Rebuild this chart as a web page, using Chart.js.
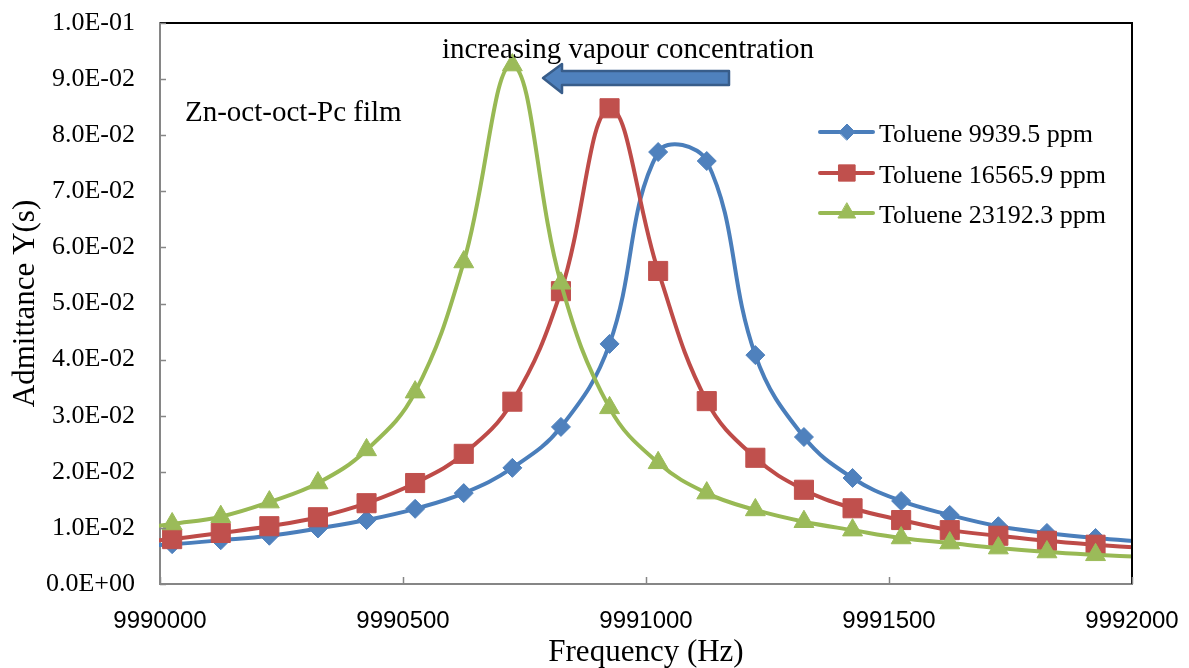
<!DOCTYPE html>
<html>
<head>
<meta charset="utf-8">
<script src="https://cdn.jsdelivr.net/npm/chart.js@4.4.1/dist/chart.umd.min.js"></script>
<style>
  html, body { margin: 0; padding: 0; background: #ffffff; }
  #wrap { width: 1189px; height: 668px; }
</style>
</head>
<body>
<div id="wrap"><canvas id="myChart" width="1189" height="668"></canvas></div>
<script>
// Datos (frecuencia en Hz, admitancia en S).
// El primer y ultimo punto estan fuera del eje: solo sirven para que la linea llegue al borde.
const frecuencias = [9989925, 9990025, 9990125, 9990225, 9990325, 9990425, 9990525, 9990625, 9990725,
  9990825, 9990925, 9991025, 9991125, 9991225, 9991325, 9991425, 9991525, 9991625,
  9991725, 9991825, 9991925, 9992025];

const tolueno1 = [0.0066, 0.0071, 0.0078, 0.0086, 0.0099, 0.0114, 0.0134, 0.0162, 0.0207, 0.0280,
  0.0428, 0.0770, 0.0754, 0.0408, 0.0262, 0.0189, 0.0148, 0.0123, 0.0103, 0.0091, 0.0082, 0.0075];
const tolueno2 = [0.0073, 0.0080, 0.0091, 0.0103, 0.0119, 0.0144, 0.0180, 0.0232, 0.0325, 0.0522,
  0.0848, 0.0558, 0.0326, 0.0225, 0.0168, 0.0135, 0.0114, 0.0096, 0.0086, 0.0077, 0.0070, 0.0064];
const tolueno3 = [0.0095, 0.0107, 0.0120, 0.0146, 0.0180, 0.0239, 0.0342, 0.0574, 0.0925, 0.0536,
  0.0314, 0.0216, 0.0162, 0.0132, 0.0111, 0.0096, 0.0082, 0.0073, 0.0064, 0.0057, 0.0052, 0.0048];

const nombres = ["Toluene 9939.5 ppm", "Toluene 16565.9 ppm", "Toluene 23192.3 ppm"];

const xMin = 9990000, xMax = 9992000, xPaso = 500;
const yMin = 0, yMax = 0.1, yPaso = 0.01;

const serif = "'Liberation Serif', 'Times New Roman', serif";
const sans = "'Liberation Sans', Arial, sans-serif";

function puntos(valores) {
  return frecuencias.map((f, i) => ({ x: f, y: valores[i] }));
}

// formato 1.0E-02
function formatoCientifico(v) {
  let partes = Number(v).toExponential(1).split("e");
  let exp = parseInt(partes[1], 10);
  let signo = exp < 0 ? "-" : "+";
  let abs = Math.abs(exp).toString().padStart(2, "0");
  return partes[0] + "E" + signo + abs;
}

function radio(r) {
  return (ctx) => {
    const p = ctx.raw;
    if (p && (p.x < xMin || p.x > xMax)) return 0;
    return r;
  };
}

const series = [
  { label: nombres[0], data: puntos(tolueno1), linea: "#4a7ebb", relleno: "#4f81bd", estilo: "rectRot", r: 9.5, rl: 8, orden: 3 },
  { label: nombres[1], data: puntos(tolueno2), linea: "#be4b48", relleno: "#c0504d", estilo: "rect", r: 13.5, rl: 11.5, orden: 2 },
  { label: nombres[2], data: puntos(tolueno3), linea: "#98b954", relleno: "#9bbb59", estilo: "triangle", r: 11.5, rl: 10, orden: 1 }
];

// Textos, flecha, marcas interiores, borde y leyenda
const extras = {
  id: "extras",
  afterDraw(chart) {
    const ctx = chart.ctx;
    const area = chart.chartArea;
    const sx = chart.scales.x, sy = chart.scales.y;
    ctx.save();

    // borde superior y derecho
    ctx.strokeStyle = "#000000";
    ctx.lineWidth = 2;
    ctx.beginPath();
    ctx.moveTo(area.left, area.top);
    ctx.lineTo(area.right, area.top);
    ctx.lineTo(area.right, area.bottom);
    ctx.stroke();

    // marcas de los ejes hacia dentro
    ctx.strokeStyle = "#868686";
    ctx.lineWidth = 1.5;
    ctx.beginPath();
    sy.ticks.forEach(t => {
      const y = Math.round(sy.getPixelForValue(t.value)) + 0.5;
      ctx.moveTo(area.left, y);
      ctx.lineTo(area.left + 6, y);
    });
    sx.ticks.forEach(t => {
      const x = Math.round(sx.getPixelForValue(t.value)) + 0.5;
      ctx.moveTo(x, area.bottom);
      ctx.lineTo(x, area.bottom - 7);
    });
    ctx.stroke();

    // textos
    ctx.fillStyle = "#000000";
    ctx.textBaseline = "alphabetic";
    ctx.textAlign = "left";
    ctx.font = "29px " + serif;
    ctx.fillText("increasing vapour concentration", 442, 58);
    ctx.fillText("Zn-oct-oct-Pc film", 185, 121);

    // flecha hacia la izquierda
    ctx.beginPath();
    ctx.moveTo(543, 78);
    ctx.lineTo(562, 64);
    ctx.lineTo(562, 71);
    ctx.lineTo(729, 71);
    ctx.lineTo(729, 85);
    ctx.lineTo(562, 85);
    ctx.lineTo(562, 93);
    ctx.closePath();
    ctx.fillStyle = "#4f81bd";
    ctx.fill();
    ctx.strokeStyle = "#385d8a";
    ctx.lineWidth = 2.5;
    ctx.lineJoin = "round";
    ctx.stroke();

    // leyenda
    const filas = [132, 173, 213];
    series.forEach((s, i) => {
      const y = filas[i];
      ctx.strokeStyle = s.linea;
      ctx.lineWidth = 4;
      ctx.lineCap = "round";
      ctx.beginPath();
      ctx.moveTo(820, y);
      ctx.lineTo(873, y);
      ctx.stroke();
      ctx.fillStyle = s.relleno;
      ctx.strokeStyle = s.relleno;
      ctx.lineWidth = 1;
      Chart.helpers.drawPoint(ctx, { pointStyle: s.estilo, radius: s.rl, rotation: 0, borderWidth: 1 }, 847, y);
      ctx.fillStyle = "#000000";
      ctx.font = "26px " + serif;
      ctx.fillText(s.label, 879, y + 10);
    });

    ctx.restore();
  }
};

const config = {
  type: "line",
  data: {
    datasets: series.map(s => ({
      label: s.label,
      data: s.data,
      borderColor: s.linea,
      borderWidth: 4,
      backgroundColor: s.relleno,
      pointBackgroundColor: s.relleno,
      pointBorderColor: s.relleno,
      pointBorderWidth: 1,
      pointStyle: s.estilo,
      pointRadius: radio(s.r),
      pointHoverRadius: radio(s.r),
      tension: 0.4,
      fill: false,
      order: s.orden,
      clip: 1
    }))
  },
  options: {
    responsive: false,
    animation: false,
    events: [],
    layout: { padding: { top: 23, right: 57, left: 0, bottom: 0 } },
    plugins: {
      legend: { display: false },
      tooltip: { enabled: false },
      title: { display: false }
    },
    scales: {
      x: {
        type: "linear",
        min: xMin,
        max: xMax,
        afterFit: (scale) => {
          scale.height = 84;
          scale.paddingLeft = 0;
          scale.paddingRight = 0;
        },
        ticks: {
          stepSize: xPaso,
          color: "#000000",
          font: { family: sans, size: 24 },
          padding: 23,
          maxRotation: 0,
          callback: (v) => v.toString()
        },
        grid: { display: false, drawTicks: false },
        border: { display: true, color: "#868686", width: 2 },
        title: {
          display: true,
          text: "Frequency (Hz)",
          color: "#000000",
          font: { family: serif, size: 31, lineHeight: 1 },
          padding: { top: 0, bottom: 0 }
        }
      },
      y: {
        type: "linear",
        min: yMin,
        max: yMax,
        afterFit: (scale) => {
          scale.width = 160;
          scale.paddingTop = 0;
          scale.paddingBottom = 0;
        },
        ticks: {
          stepSize: yPaso,
          color: "#000000",
          font: { family: serif, size: 26 },
          padding: 25,
          callback: (v) => formatoCientifico(v)
        },
        grid: { display: false, drawTicks: false },
        border: { display: true, color: "#868686", width: 2 },
        title: {
          display: true,
          text: "Admittance Y(s)",
          color: "#000000",
          font: { family: serif, size: 31, lineHeight: 1 },
          padding: { top: 10, bottom: 0 }
        }
      }
    }
  },
  plugins: [extras]
};

const myChart = new Chart(document.getElementById("myChart"), config);
</script>
</body>
</html>
